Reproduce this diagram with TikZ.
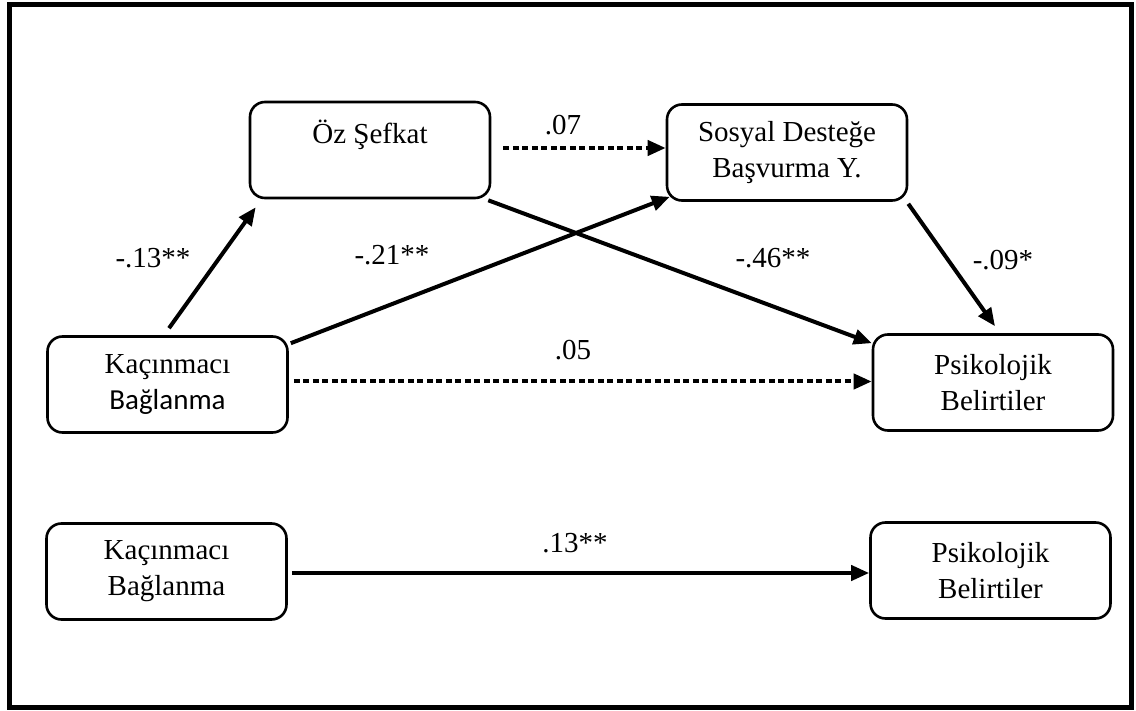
\documentclass[tikz,border=0pt]{standalone}
\usepackage{fontspec}
\setmainfont{Liberation Serif}
\newfontfamily\calibrilike{Carlito}
\usetikzlibrary{arrows.meta}

\tikzset{
  box/.style={draw, line width=2.6pt, rounded corners=15pt,
    minimum width=240pt, minimum height=96pt, align=center,
    font=\fontsize{29}{36}\selectfont, inner sep=0pt},
  path/.style={line width=4pt, -{Triangle[length=18pt,width=15pt]}},
  weakpath/.style={path, dash pattern=on 6pt off 3.5pt},
  coef/.style={font=\fontsize{29}{34}\selectfont, inner sep=0pt}
}

\begin{document}
\begin{tikzpicture}[x=1pt, y=-1pt]
  \useasboundingbox (0,0) rectangle (1136,711);
  % outer frame
  \draw[line width=5pt] (9.5,4.5) rectangle (1131.5,707.5);

  % mediation model
  \node[box] (kb) at (167.5,384.5) {Kaçınmacı\\{\calibrilike Bağlanma}};
  \node[box] (oz) at (370,150) {Öz Şefkat\\\mbox{}};
  \node[box] (sd) at (787,152.5) {Sosyal Desteğe\\Başvurma Y.};
  \node[box] (pb) at (993,382.5) {Psikolojik\\Belirtiler};

  % total effect model
  \node[box] (kb2) at (166.5,571.5) {Kaçınmacı\\Bağlanma};
  \node[box] (pb2) at (990.5,570.5) {Psikolojik\\Belirtiler};

  % paths
  \draw[path] ([shift={(1.5,-7)}]kb.north) -- ([shift={(7,8)}]oz.south west);
  \draw[path] ([shift={(2,8)}]kb.north east) -- ([shift={(4,-5)}]sd.south west);
  \draw[path] ([shift={(-3,1)}]oz.south east) -- ([shift={(0,10)}]pb.north west);
  \draw[path] ([shift={(0,2)}]sd.south east) -- ([shift={(2,-7)}]pb.north);
  \draw[weakpath] ([shift={(12,-2)}]oz.east) -- ([shift={(0,-2)}]oz.east -| sd.west);
  \draw[weakpath] ([shift={(5,-3)}]kb.east) -- ([shift={(0,-3)}]kb.east -| pb.west);
  \draw[path] ([shift={(4,1.5)}]kb2.east) -- ([shift={(0,1.5)}]kb2.east -| pb2.west);

  % coefficients
  \node[coef] (c1) at (153,258) {-.13**};
  \node[coef] (c2) at (392,255) {-.21**};
  \node[coef] (c3) at (773,258) {-.46**};
  \node[coef] (c4) at (1003,260) {-.09*};
  \node[coef] (c5) at (563,125) {.07};
  \node[coef] (c6) at (573,350) {.05};
  \node[coef] (c7) at (575,543) {.13**};
\end{tikzpicture}
\end{document}
